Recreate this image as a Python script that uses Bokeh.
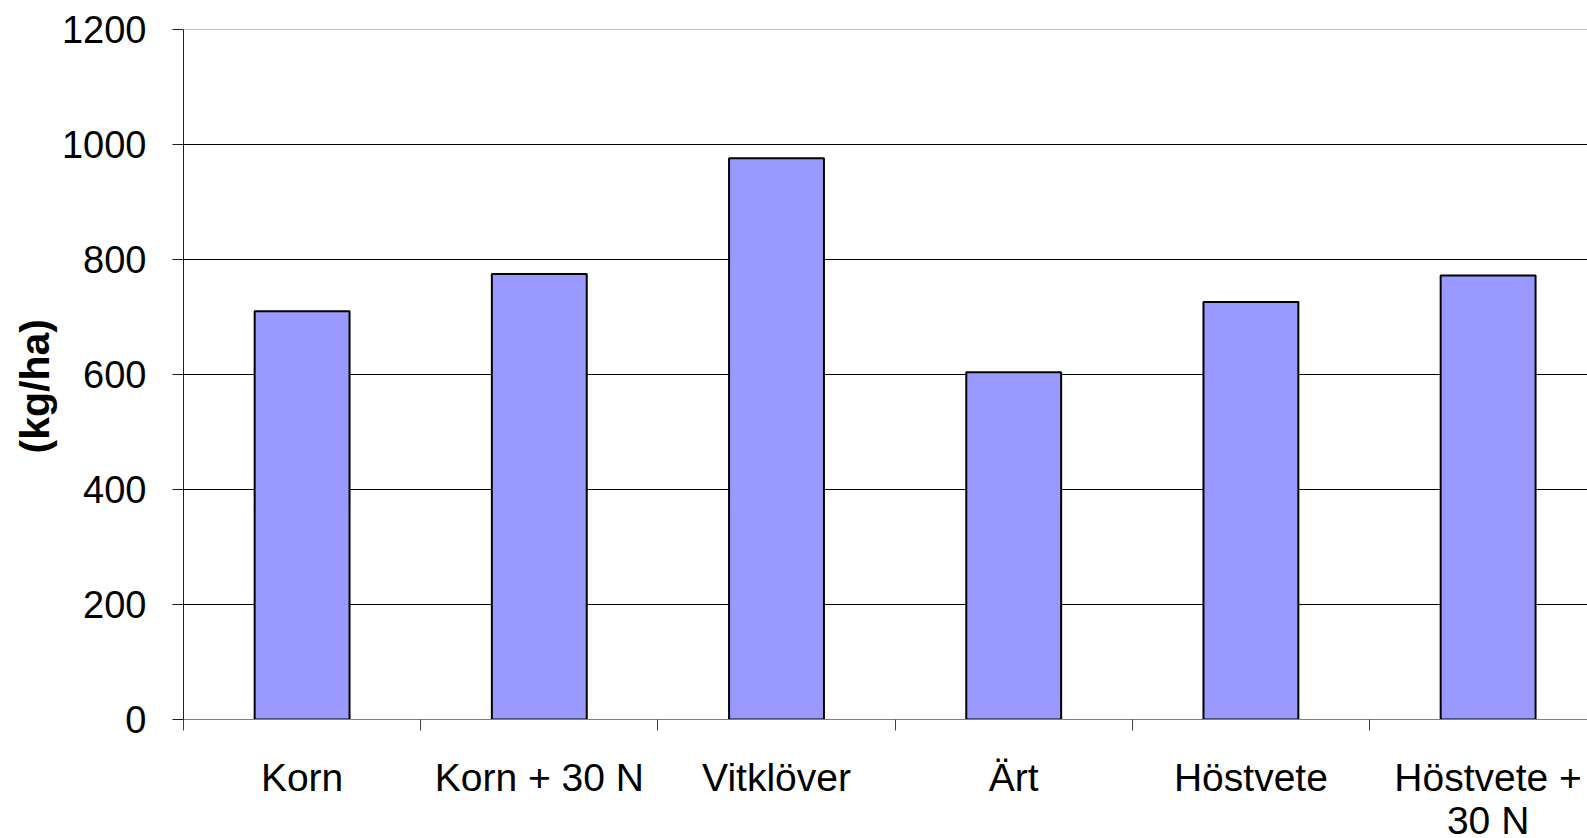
from bokeh.plotting import figure
from bokeh.models import Range1d, FixedTicker, Span, Title, ColumnDataSource
from bokeh.core.properties import value
from bokeh.embed import file_html
from bokeh.resources import INLINE

categories = ["Korn", "Korn + 30 N", "Vitklöver", "Ärt", "Höstvete", "Höstvete +\n30 N"]
values = [710, 775, 976, 604, 726, 772]
y_ticks = [0, 200, 400, 600, 800, 1000, 1200]
y_label = "(kg/ha)"

FONT = "Liberation Sans"
n = len(categories)
centers = [i + 0.5 for i in range(n)]
bounds = list(range(n + 1))

p = figure(width=1587, height=838, output_backend="svg", toolbar_location=None,
           x_range=Range1d(0, 5.919), y_range=Range1d(0, 1200),
           min_border_left=183, min_border_top=29, min_border_bottom=119, min_border_right=0)
p.outline_line_color = None
p.background_fill_color = "white"
p.border_fill_color = "white"

p.vbar(x=centers, top=values, width=0.4, bottom=0,
       fill_color="#9999FF", line_color="black", line_width=2)

# y axis
ya = p.yaxis[0]
ya.ticker = FixedTicker(ticks=y_ticks)
ya.minor_tick_line_color = None
ya.major_tick_out = 11
ya.major_tick_in = 0
ya.major_label_standoff = 26
ya.major_label_text_font = FONT
ya.major_label_text_font_size = "38px"
ya.major_label_text_color = "black"
ya.axis_line_color = "#202020"
ya.major_tick_line_color = "#202020"

ytitle = Title(text=y_label, align="left", offset=266, standoff=2,
               text_font=FONT, text_font_style="bold", text_font_size="41px",
               text_color="black")
p.add_layout(ytitle, "left")

p.xgrid.visible = False
p.ygrid.ticker = FixedTicker(ticks=y_ticks[1:-1])
p.ygrid.grid_line_color = "black"
p.ygrid.grid_line_width = 1
p.add_layout(Span(location=y_ticks[-1], dimension="width", line_color="#808080", line_width=1))

# x axis: only tick marks at category boundaries
xa = p.xaxis[0]
xa.ticker = FixedTicker(ticks=[], minor_ticks=bounds)
xa.major_tick_out = 0
xa.minor_tick_out = 11
xa.minor_tick_in = 0
xa.minor_tick_line_color = "#404040"
xa.axis_line_color = "#808080"

# category labels below the axis, centred on each category
src = ColumnDataSource(dict(x=centers, y=[0] * n, text=categories))
p.text(x="x", y="y", text="text", source=src, y_offset=36,
       text_align="center", text_baseline="top",
       text_font=value(FONT), text_font_size="39px", text_color="black",
       text_line_height=1.0, level="overlay")

open("out.html", "w").write(file_html(p, INLINE))
